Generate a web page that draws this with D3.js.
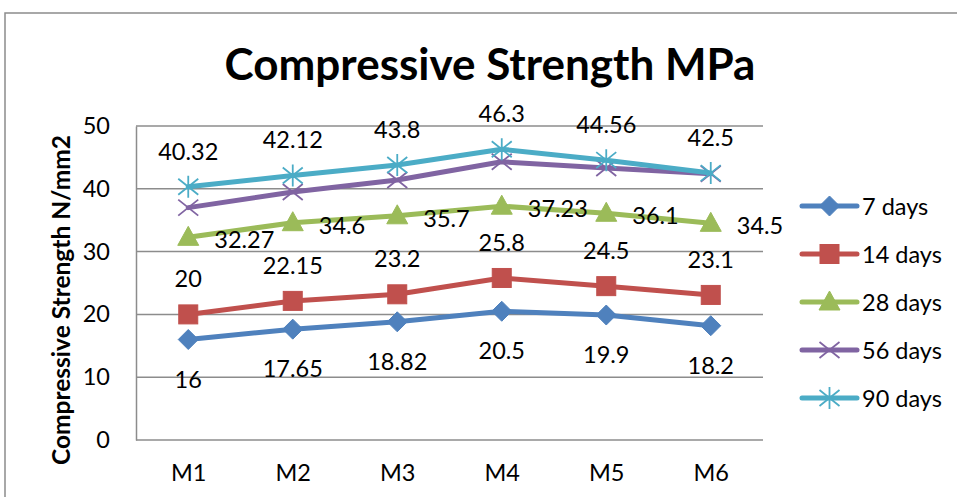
<!DOCTYPE html>
<html>
<head>
<meta charset="utf-8">
<script src="https://cdn.jsdelivr.net/npm/d3@7"></script>
<style>
  html, body { margin: 0; padding: 0; background: #fff; }
  svg { display: block; font-family: Lato, "Open Sans", sans-serif; }
</style>
</head>
<body>
<svg id="chart" width="957" height="497"></svg>
<script>
// Mix designs along the x axis
const mixes = ["M1", "M2", "M3", "M4", "M5", "M6"];

// Compressive strength (N/mm2) by curing age
const days7  = [16, 17.65, 18.82, 20.5, 19.9, 18.2];
const days14 = [20, 22.15, 23.2, 25.8, 24.5, 23.1];
const days28 = [32.27, 34.6, 35.7, 37.23, 36.1, 34.5];
const days56 = [37, 39.5, 41.4, 44.3, 43.3, 42.4];
const days90 = [40.32, 42.12, 43.8, 46.3, 44.56, 42.5];

const seriesNames = ["7 days", "14 days", "28 days", "56 days", "90 days"];
const yTicks = [0, 10, 20, 30, 40, 50];

const series = [
  { name: seriesNames[0], values: days7,  color: "#4F81BD", marker: "diamond",  label: "below" },
  { name: seriesNames[1], values: days14, color: "#C0504D", marker: "square",   label: "above" },
  { name: seriesNames[2], values: days28, color: "#9BBB59", marker: "triangle", label: "right" },
  { name: seriesNames[3], values: days56, color: "#8064A2", marker: "x",        label: null },
  { name: seriesNames[4], values: days90, color: "#4BACC6", marker: "star",     label: "above" }
];

const svg = d3.select("#chart");

// Outer chart frame (runs past the right and bottom edges)
svg.append("rect")
  .attr("x", 5).attr("y", 13)
  .attr("width", 1000).attr("height", 600)
  .attr("fill", "none").attr("stroke", "#8c8c8c").attr("stroke-width", 1.5);

const plot = { left: 136, right: 763, top: 126, bottom: 440 };

const x = d3.scalePoint().domain(mixes).range([plot.left, plot.right]).padding(0.5);
const y = d3.scaleLinear().domain([0, 50]).range([plot.bottom, plot.top]);

// Horizontal gridlines
svg.append("g")
  .selectAll("line")
  .data(yTicks)
  .join("line")
  .attr("x1", plot.left).attr("x2", plot.right)
  .attr("y1", d => y(d)).attr("y2", d => y(d))
  .attr("stroke", "#8c8c8c").attr("stroke-width", 1.5);

// Y axis
const yAxis = svg.append("g")
  .attr("transform", `translate(${plot.left},0)`)
  .call(d3.axisLeft(y).tickValues(yTicks).tickSize(0).tickPadding(26));
yAxis.select(".domain").attr("stroke", "#8c8c8c").attr("stroke-width", 1.5);
yAxis.selectAll("text")
  .attr("font-family", "Lato, 'Open Sans', sans-serif")
  .attr("font-size", 23.5).attr("fill", "#000");

// X axis
const xAxis = svg.append("g")
  .attr("transform", `translate(0,${plot.bottom})`)
  .call(d3.axisBottom(x).tickSize(0).tickPadding(24));
xAxis.select(".domain").remove();
xAxis.selectAll("text")
  .attr("font-family", "Lato, 'Open Sans', sans-serif")
  .attr("font-size", 23.5).attr("fill", "#000");

// Title
svg.append("text")
  .attr("x", 490).attr("y", 80)
  .attr("text-anchor", "middle")
  .attr("font-weight", "bold")
  .attr("font-size", 44)
  .text("Compressive Strength MPa");

// Y axis title
svg.append("text")
  .attr("transform", `translate(70,300) rotate(-90)`)
  .attr("text-anchor", "middle")
  .attr("font-weight", "bold")
  .attr("font-size", 24.5)
  .text("Compressive Strength N/mm2");

// Marker shapes
function drawMarker(g, type, color, cx, cy) {
  if (type === "diamond") {
    g.append("path").attr("d", `M${cx},${cy - 10}L${cx + 10},${cy}L${cx},${cy + 10}L${cx - 10},${cy}Z`)
      .attr("fill", color).attr("stroke", color).attr("stroke-width", 1);
  } else if (type === "square") {
    g.append("rect").attr("x", cx - 9.5).attr("y", cy - 9.5).attr("width", 19).attr("height", 19)
      .attr("fill", color).attr("stroke", color).attr("stroke-width", 1);
  } else if (type === "triangle") {
    g.append("path").attr("d", `M${cx},${cy - 11}L${cx + 10.5},${cy + 8}L${cx - 10.5},${cy + 8}Z`)
      .attr("fill", color).attr("stroke", color).attr("stroke-width", 1);
  } else if (type === "x") {
    g.append("path").attr("d", `M${cx - 10},${cy - 8}L${cx + 10},${cy + 8}M${cx - 10},${cy + 8}L${cx + 10},${cy - 8}`)
      .attr("stroke", color).attr("stroke-width", 1.8).attr("fill", "none");
  } else if (type === "star") {
    g.append("path").attr("d", `M${cx - 10},${cy - 8}L${cx + 10},${cy + 8}M${cx - 10},${cy + 8}L${cx + 10},${cy - 8}M${cx},${cy - 11}L${cx},${cy + 11}`)
      .attr("stroke", color).attr("stroke-width", 1.8).attr("fill", "none");
  }
}

const line = d3.line().x((d, i) => x(mixes[i])).y(d => y(d));

// Series lines and markers
series.forEach(s => {
  const g = svg.append("g");
  g.append("path")
    .attr("d", line(s.values))
    .attr("fill", "none")
    .attr("stroke", s.color)
    .attr("stroke-width", 5)
    .attr("stroke-linejoin", "round")
    .attr("stroke-linecap", "round");
  s.values.forEach((v, i) => drawMarker(g, s.marker, s.color, x(mixes[i]), y(v)));
});

// Data labels
series.forEach(s => {
  if (!s.label) return;
  const g = svg.append("g")
    .attr("font-size", 23.5)
    .attr("fill", "#000");
  s.values.forEach((v, i) => {
    const px = x(mixes[i]), py = y(v);
    const t = g.append("text").attr("dominant-baseline", "central").text(v);
    if (s.label === "above") {
      t.attr("x", px).attr("y", py - 36).attr("text-anchor", "middle");
    } else if (s.label === "below") {
      t.attr("x", px).attr("y", py + 39).attr("text-anchor", "middle");
    } else {
      t.attr("x", px + 26).attr("y", py + 2).attr("text-anchor", "start");
    }
  });
});

// Legend
const legend = svg.append("g");
series.forEach((s, i) => {
  const cy = 206 + i * 48;
  legend.append("line")
    .attr("x1", 802).attr("x2", 857).attr("y1", cy).attr("y2", cy)
    .attr("stroke", s.color).attr("stroke-width", 5).attr("stroke-linecap", "round");
  drawMarker(legend, s.marker, s.color, 829.5, cy);
  legend.append("text")
    .attr("x", 862).attr("y", cy)
    .attr("dominant-baseline", "central")
    .attr("font-size", 23.5)
    .text(s.name);
});
</script>
</body>
</html>
